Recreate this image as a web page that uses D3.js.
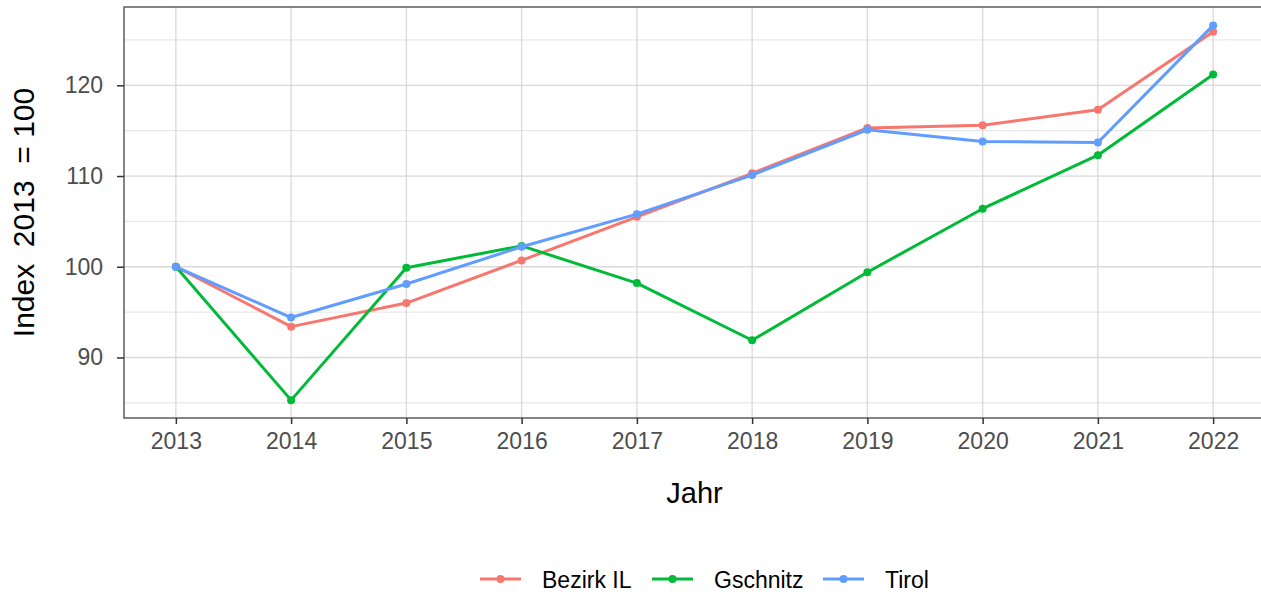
<!DOCTYPE html>
<html>
<head>
<meta charset="utf-8">
<script src="https://cdn.jsdelivr.net/npm/d3@7"></script>
<style>
    body { margin: 0; background: #fff; }
    svg { font-family: "Liberation Sans", Arial, sans-serif; }
</style>
</head>
<body>
<script>
// data
const years = [2013, 2014, 2015, 2016, 2017, 2018, 2019, 2020, 2021, 2022];
const seriesNames = ["Bezirk IL", "Gschnitz", "Tirol"];
const bezirkIL = [100, 93.4, 96.0, 100.7, 105.5, 110.3, 115.3, 115.6, 117.3, 125.9];
const gschnitz = [100, 85.3, 99.9, 102.3, 98.2, 91.9, 99.4, 106.4, 112.3, 121.2];
const tirol = [100, 94.4, 98.1, 102.2, 105.8, 110.1, 115.1, 113.8, 113.7, 126.6];
const yTicks = [90, 100, 110, 120];
const yMinor = [85, 95, 105, 115, 125];
const colors = ["#F8766D", "#00BA38", "#619CFF"];

const series = [bezirkIL, gschnitz, tirol].map((vals, k) => ({
    name: seriesNames[k],
    color: colors[k],
    values: vals.map((v, i) => ({ x: years[i], y: v }))
}));

const W = 1261, H = 594;
const margin = { top: 7, right: -4, bottom: 176, left: 124 };
const width = W - margin.left - margin.right;
const height = H - margin.top - margin.bottom;

const svg = d3.select("body").append("svg")
    .attr("width", W)
    .attr("height", H);

const g = svg.append("g")
    .attr("transform", "translate(" + margin.left + "," + margin.top + ")");

// ggplot style expansion: 5% on each side
const xScale = d3.scaleLinear()
    .domain([2013 - 0.45, 2022 + 0.45])
    .range([0, width]);

const yScale = d3.scaleLinear()
    .domain([83.33, 128.63])
    .range([height, 0]);

// minor grid
g.append("g").selectAll("line")
    .data(yMinor)
    .join("line")
    .attr("x1", 0).attr("x2", width)
    .attr("y1", d => yScale(d)).attr("y2", d => yScale(d))
    .attr("stroke", "#e3e3e3").attr("stroke-width", 1);

// major grid
g.append("g").selectAll("line")
    .data(yTicks)
    .join("line")
    .attr("x1", 0).attr("x2", width)
    .attr("y1", d => yScale(d)).attr("y2", d => yScale(d))
    .attr("stroke", "#d9d9d9").attr("stroke-width", 1.3);

g.append("g").selectAll("line")
    .data(years)
    .join("line")
    .attr("x1", d => xScale(d)).attr("x2", d => xScale(d))
    .attr("y1", 0).attr("y2", height)
    .attr("stroke", "#d9d9d9").attr("stroke-width", 1.3);

// panel border
g.append("rect")
    .attr("x", 0).attr("y", 0)
    .attr("width", width).attr("height", height)
    .attr("fill", "none")
    .attr("stroke", "#5c5c5c")
    .attr("stroke-width", 1.5);

// axes
const xAxis = g.append("g")
    .attr("transform", "translate(0," + height + ")")
    .call(d3.axisBottom(xScale).tickValues(years).tickFormat(d3.format("d")).tickSize(6).tickPadding(9));

const yAxis = g.append("g")
    .call(d3.axisLeft(yScale).tickValues(yTicks).tickSize(7).tickPadding(14));

[xAxis, yAxis].forEach(a => {
    a.select(".domain").remove();
    a.selectAll(".tick line").attr("stroke", "#333").attr("stroke-width", 1.5);
    a.selectAll(".tick text")
        .attr("fill", "#4d4d4d")
        .style("font-size", "23px")
        .style("font-family", "'Liberation Sans', Arial, sans-serif");
});

// lines and points
const line = d3.line()
    .x(d => xScale(d.x))
    .y(d => yScale(d.y));

series.forEach(s => {
    g.append("path")
        .datum(s.values)
        .attr("fill", "none")
        .attr("stroke", s.color)
        .attr("stroke-width", 3)
        .attr("stroke-linejoin", "round")
        .attr("d", line);

    g.append("g").selectAll("circle")
        .data(s.values)
        .join("circle")
        .attr("cx", d => xScale(d.x))
        .attr("cy", d => yScale(d.y))
        .attr("r", 4)
        .attr("fill", s.color);
});

// axis titles
svg.append("text")
    .attr("x", margin.left + width / 2)
    .attr("y", 503)
    .attr("text-anchor", "middle")
    .style("font-size", "29px")
    .attr("fill", "#000")
    .text("Jahr");

svg.append("text")
    .attr("transform", "translate(34," + (margin.top + height / 2) + ") rotate(-90)")
    .attr("text-anchor", "middle")
    .style("font-size", "30px")
    .style("white-space", "pre")
    .attr("fill", "#000")
    .text("Index  2013  = 100");

// legend
const legendX = [480, 652, 823];
const legend = svg.append("g");
series.forEach((s, k) => {
    const lg = legend.append("g")
        .attr("transform", "translate(" + legendX[k] + ",579)");
    lg.append("line")
        .attr("x1", 0).attr("x2", 41)
        .attr("stroke", s.color).attr("stroke-width", 3);
    lg.append("circle")
        .attr("cx", 20.5).attr("r", 4)
        .attr("fill", s.color);
    lg.append("text")
        .attr("x", 62)
        .attr("y", 9)
        .style("font-size", "23px")
        .attr("fill", "#000")
        .text(s.name);
});
</script>
</body>
</html>
